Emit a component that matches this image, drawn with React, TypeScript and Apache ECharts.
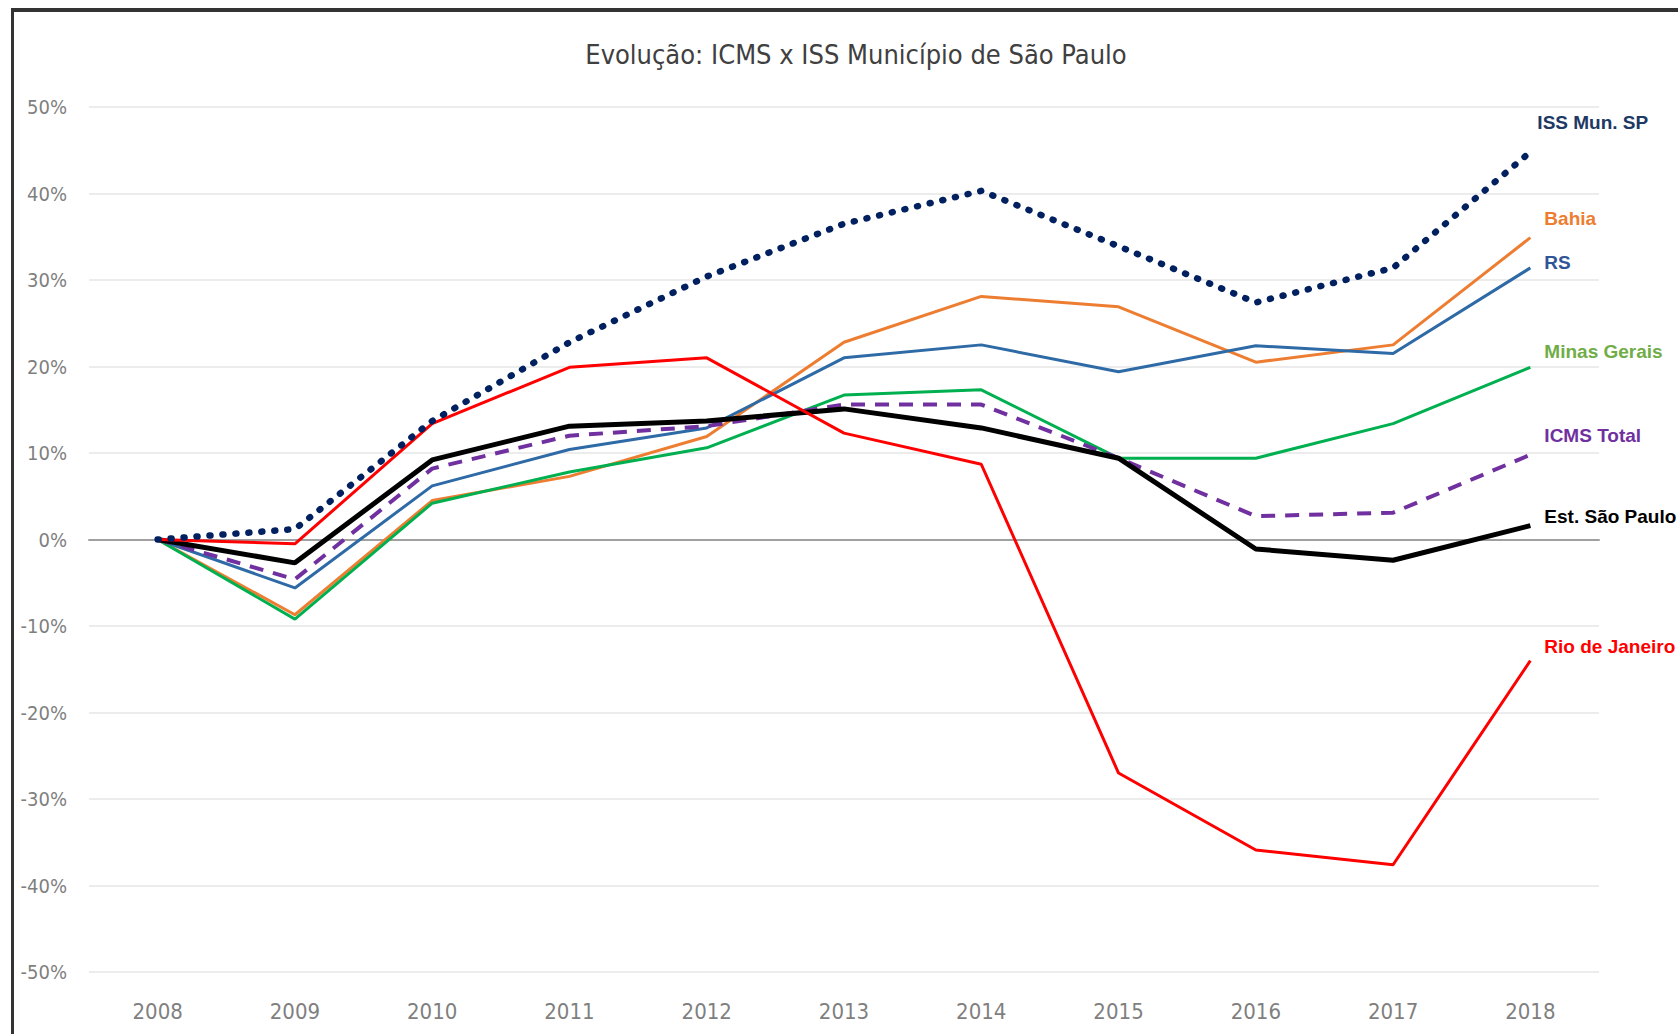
import React, { useEffect, useRef } from "react";
import * as echarts from "echarts";

const years = ["2008", "2009", "2010", "2011", "2012", "2013", "2014", "2015", "2016", "2017", "2018"];

const issMunSP = [0, 1.2, 13.7, 22.8, 30.4, 36.5, 40.3, 33.9, 27.4, 31.4, 44.8];
const bahia = [0, -8.7, 4.5, 7.3, 11.9, 22.8, 28.1, 26.9, 20.5, 22.5, 34.9];
const rs = [0, -5.6, 6.2, 10.4, 12.9, 21.0, 22.5, 19.4, 22.4, 21.5, 31.4];
const minasGerais = [0, -9.2, 4.2, 7.8, 10.6, 16.7, 17.3, 9.4, 9.4, 13.4, 19.9];
const icmsTotal = [0, -4.6, 8.2, 12.0, 13.1, 15.6, 15.6, 9.4, 2.7, 3.1, 9.8];
const estSaoPaulo = [0, -2.7, 9.2, 13.1, 13.7, 15.1, 12.9, 9.4, -1.1, -2.4, 1.6];
const rioDeJaneiro = [0, -0.5, 13.4, 19.9, 21.0, 12.3, 8.7, -27.0, -35.9, -37.6, -14.0];

const FONT = "'Liberation Sans Narrow', 'DejaVu Sans Condensed', 'Noto Sans', sans-serif";
const LABEL_FONT = "'Liberation Sans Narrow', 'Liberation Sans', sans-serif";

export default function App() {
  const ref = useRef<HTMLDivElement>(null);

  useEffect(() => {
    if (!ref.current) return;
    const chart = echarts.init(ref.current, undefined, { renderer: "svg" });

    const mk = (
      name: string,
      data: number[],
      color: string,
      width: number,
      lineType: any,
      labelColor: string,
      offset: number[],
      cap: string = "butt"
    ) => ({
      name,
      type: "line",
      data,
      symbol: "none",
      lineStyle: { color, width, type: lineType, cap },
      itemStyle: { color },
      endLabel: {
        show: true,
        formatter: name,
        color: labelColor,
        fontFamily: LABEL_FONT,
        fontSize: 19,
        fontWeight: "bold",
        offset,
      },
    });

    chart.setOption({
      animation: false,
      backgroundColor: "#ffffff",
      title: {
        text: "Evolução: ICMS x ISS Município de São Paulo",
        left: 856,
        top: 41,
        textAlign: "center",
        padding: 0,
        textStyle: { fontFamily: FONT, fontSize: 27, fontWeight: "normal", color: "#404040" },
      },
      grid: { left: 89, right: 79, top: 107, bottom: 62, containLabel: false },
      xAxis: {
        type: "category",
        data: years,
        boundaryGap: true,
        axisLine: { show: true, onZero: true, lineStyle: { color: "#a0a0a0", width: 2 } },
        axisTick: { show: false },
        axisLabel: { color: "#7f7f7f", fontFamily: FONT, fontSize: 22, margin: 28 },
        splitLine: { show: false },
      },
      yAxis: {
        type: "value",
        min: -50,
        max: 50,
        interval: 10,
        axisLine: { show: false },
        axisTick: { show: false },
        axisLabel: { color: "#7f7f7f", fontFamily: FONT, fontSize: 20, margin: 22, formatter: "{value}%" },
        splitLine: { lineStyle: { color: "#ececec", width: 2 } },
      },
      series: [
        mk("Bahia", bahia, "#ed7d31", 3, "solid", "#ed7d31", [6, -19]),
        mk("RS", rs, "#2e6aa6", 3, "solid", "#2f5597", [6, -5]),
        mk("Minas Gerais", minasGerais, "#00b050", 3, "solid", "#70ad47", [6, -16]),
        mk("ICMS Total", icmsTotal, "#7030a0", 4, [14, 10], "#7030a0", [6, -19]),
        mk("Est. São Paulo", estSaoPaulo, "#000000", 5, "solid", "#000000", [6, -9]),
        mk("Rio de Janeiro", rioDeJaneiro, "#ff0000", 3, "solid", "#ff0000", [6, -14]),
        mk("ISS Mun. SP", issMunSP, "#002060", 6.5, [1, 12], "#203864", [-1, -29], "round"),
      ],
      graphic: [
        { type: "rect", left: 11, top: 8, shape: { width: 1667, height: 4 }, style: { fill: "#333333" }, silent: true },
        { type: "rect", left: 11, top: 8, shape: { width: 3, height: 1026 }, style: { fill: "#333333" }, silent: true },
      ],
    });

    return () => chart.dispose();
  }, []);

  return (
    <div
      ref={ref}
      style={{ position: "absolute", left: 0, top: 0, width: 1678, height: 1034 }}
    />
  );
}
